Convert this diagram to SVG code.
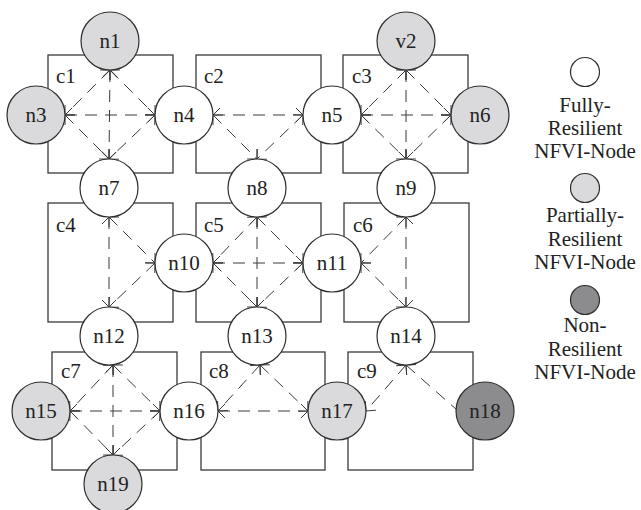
<svg xmlns="http://www.w3.org/2000/svg" width="641" height="510" viewBox="0 0 641 510">
<defs>
<marker id="ah" viewBox="0 0 16 16" refX="9" refY="8" markerWidth="16" markerHeight="16" markerUnits="userSpaceOnUse" orient="auto-start-reverse">
<path d="M2,1 L9,8 L2,15" fill="none" stroke="#3a3a3a" stroke-width="1" stroke-dasharray="none"/>
</marker>
<style>
.box{fill:none;stroke:#3a3a3a;stroke-width:1.3}
.e{fill:none;stroke:#3a3a3a;stroke-width:1;stroke-dasharray:12 8;marker-start:url(#ah);marker-end:url(#ah)}
.e1{fill:none;stroke:#3a3a3a;stroke-width:1;stroke-dasharray:12 8;marker-start:url(#ah)}
.nd{stroke:#2e2e2e;stroke-width:1.2}
.w{fill:#ffffff}
.g{fill:#dadadc}
.d{fill:#8c8c8e}
text{font-family:"Liberation Serif","Times New Roman",serif;fill:#222}
.t{font-size:21px;text-anchor:middle}
.c{font-size:21px}
.lg{font-size:21px;text-anchor:middle}
</style>
</defs>
<rect width="641" height="510" fill="#ffffff"/>
<g id="clusters">
<rect class="box" x="48" y="55" width="125" height="118"/>
<rect class="box" x="196" y="55" width="125" height="118"/>
<rect class="box" x="343" y="55" width="125" height="118"/>
<rect class="box" x="48" y="203" width="125" height="119"/>
<rect class="box" x="196" y="203" width="125" height="119"/>
<rect class="box" x="344" y="203" width="125" height="119"/>
<rect class="box" x="52" y="352" width="125" height="118"/>
<rect class="box" x="201" y="352" width="124" height="118"/>
<rect class="box" x="348" y="352" width="125" height="118"/>
<text class="c" x="56" y="83">c1</text>
<text class="c" x="204" y="83">c2</text>
<text class="c" x="352" y="83">c3</text>
<text class="c" x="56" y="232">c4</text>
<text class="c" x="204" y="232">c5</text>
<text class="c" x="353" y="232">c6</text>
<text class="c" x="61" y="378">c7</text>
<text class="c" x="209" y="378">c8</text>
<text class="c" x="357" y="378">c9</text>
</g>
<g id="connectors">
<line class="e" x1="65" y1="115" x2="155" y2="115"/>
<line class="e" x1="110" y1="70" x2="109" y2="159"/>
<line class="e" x1="110" y1="70" x2="65" y2="115"/>
<line class="e" x1="110" y1="70" x2="155" y2="115"/>
<line class="e" x1="65" y1="115" x2="109" y2="159"/>
<line class="e" x1="155" y1="115" x2="109" y2="159"/>
<line class="e" x1="213" y1="115" x2="303" y2="115"/>
<line class="e" x1="213" y1="115" x2="257" y2="159"/>
<line class="e" x1="303" y1="115" x2="257" y2="159"/>
<line class="e" x1="361" y1="115" x2="451" y2="115"/>
<line class="e" x1="406" y1="70" x2="406" y2="159"/>
<line class="e" x1="406" y1="70" x2="361" y2="115"/>
<line class="e" x1="406" y1="70" x2="451" y2="115"/>
<line class="e" x1="361" y1="115" x2="406" y2="159"/>
<line class="e" x1="451" y1="115" x2="406" y2="159"/>
<line class="e" x1="109" y1="217" x2="109" y2="307"/>
<line class="e" x1="109" y1="217" x2="155" y2="263"/>
<line class="e" x1="155" y1="263" x2="109" y2="307"/>
<line class="e" x1="213" y1="263" x2="303" y2="263"/>
<line class="e" x1="257" y1="217" x2="257" y2="307"/>
<line class="e" x1="257" y1="217" x2="213" y2="263"/>
<line class="e" x1="257" y1="217" x2="303" y2="263"/>
<line class="e" x1="213" y1="263" x2="257" y2="307"/>
<line class="e" x1="303" y1="263" x2="257" y2="307"/>
<line class="e" x1="406" y1="217" x2="406" y2="307"/>
<line class="e" x1="406" y1="217" x2="361" y2="263"/>
<line class="e" x1="361" y1="263" x2="406" y2="307"/>
<line class="e" x1="70" y1="411" x2="160" y2="411"/>
<line class="e" x1="113" y1="365" x2="113" y2="455"/>
<line class="e" x1="113" y1="365" x2="70" y2="411"/>
<line class="e" x1="113" y1="365" x2="160" y2="411"/>
<line class="e" x1="70" y1="411" x2="113" y2="455"/>
<line class="e" x1="160" y1="411" x2="113" y2="455"/>
<line class="e" x1="218" y1="411" x2="308" y2="411"/>
<line class="e" x1="260" y1="365" x2="218" y2="411"/>
<line class="e" x1="260" y1="365" x2="308" y2="411"/>
<line class="e" x1="406" y1="365" x2="366" y2="411"/>
<line class="e1" x1="406" y1="365" x2="457" y2="410"/>
</g>
<g id="n1"><circle class="nd g" cx="110" cy="41" r="29"/><text class="t" x="110" y="48">n1</text></g>
<g id="n3"><circle class="nd g" cx="36" cy="115" r="29"/><text class="t" x="36" y="122">n3</text></g>
<g id="n4"><circle class="nd w" cx="184" cy="115" r="29"/><text class="t" x="184" y="122">n4</text></g>
<g id="n5"><circle class="nd w" cx="332" cy="115" r="29"/><text class="t" x="332" y="122">n5</text></g>
<g id="v2"><circle class="nd g" cx="406" cy="41" r="29"/><text class="t" x="406" y="48">v2</text></g>
<g id="n6"><circle class="nd g" cx="480" cy="115" r="29"/><text class="t" x="480" y="122">n6</text></g>
<g id="n7"><circle class="nd w" cx="109" cy="188" r="29"/><text class="t" x="109" y="195">n7</text></g>
<g id="n8"><circle class="nd w" cx="257" cy="188" r="29"/><text class="t" x="257" y="195">n8</text></g>
<g id="n9"><circle class="nd w" cx="406" cy="188" r="29"/><text class="t" x="406" y="195">n9</text></g>
<g id="n10"><circle class="nd w" cx="184" cy="263" r="29"/><text class="t" x="184" y="270">n10</text></g>
<g id="n11"><circle class="nd w" cx="332" cy="263" r="29"/><text class="t" x="332" y="270">n11</text></g>
<g id="n12"><circle class="nd w" cx="109" cy="336" r="29"/><text class="t" x="109" y="343">n12</text></g>
<g id="n13"><circle class="nd w" cx="257" cy="336" r="29"/><text class="t" x="257" y="343">n13</text></g>
<g id="n14"><circle class="nd w" cx="406" cy="336" r="29"/><text class="t" x="406" y="343">n14</text></g>
<g id="n15"><circle class="nd g" cx="41" cy="411" r="29"/><text class="t" x="41" y="418">n15</text></g>
<g id="n16"><circle class="nd w" cx="189" cy="411" r="29"/><text class="t" x="189" y="418">n16</text></g>
<g id="n17"><circle class="nd g" cx="337" cy="411" r="29"/><text class="t" x="337" y="418">n17</text></g>
<g id="n18"><circle class="nd d" cx="485" cy="411" r="29"/><text class="t" x="485" y="418">n18</text></g>
<g id="n19"><circle class="nd g" cx="113" cy="484" r="29"/><text class="t" x="113" y="491">n19</text></g>
<g id="legend">
<circle class="nd w" cx="585" cy="72" r="14.5"/>
<text class="lg" x="585" y="112">Fully-</text>
<text class="lg" x="585" y="135">Resilient</text>
<text class="lg" x="585" y="158">NFVI-Node</text>
<circle class="nd g" cx="585" cy="188" r="14.5"/>
<text class="lg" x="585" y="222">Partially-</text>
<text class="lg" x="585" y="246">Resilient</text>
<text class="lg" x="585" y="269">NFVI-Node</text>
<circle class="nd d" cx="585" cy="300" r="14.5"/>
<text class="lg" x="585" y="332">Non-</text>
<text class="lg" x="585" y="356">Resilient</text>
<text class="lg" x="585" y="379">NFVI-Node</text>
</g>
</svg>
